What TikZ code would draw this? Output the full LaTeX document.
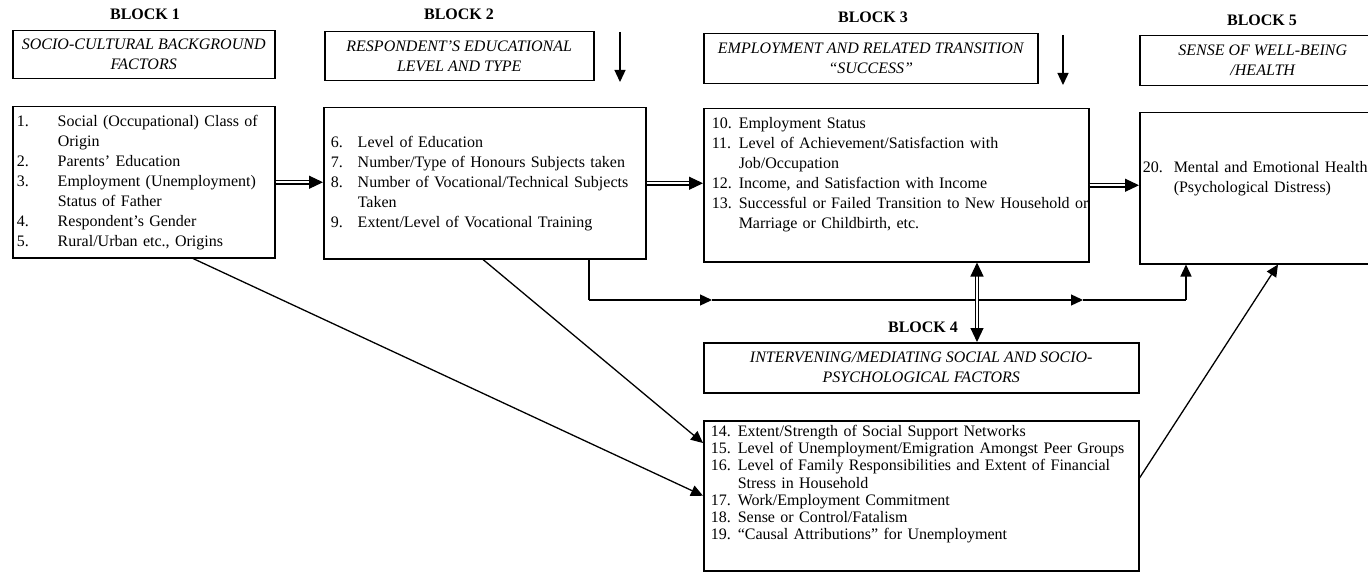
\documentclass[tikz,border=0pt]{standalone}
\usepackage{fontspec}
\setmainfont{Liberation Serif}
\usetikzlibrary{positioning}
\usetikzlibrary{arrows.meta}
\usetikzlibrary{calc}
\setlength{\parindent}{0pt}
\newcommand{\listfont}{\fontsize{16}{20}\selectfont}
\newcommand{\smalllistfont}{\fontsize{16}{17.2}\selectfont}
\tikzstyle{blocklabel}=[font=\fontsize{16}{20}\selectfont\bfseries, inner sep=0pt]
\tikzstyle{titlebox}=[draw, line width=1.5pt, anchor=north west, inner sep=0pt, align=center, font=\fontsize{16}{20}\selectfont\itshape]
\tikzstyle{listbox}=[draw, line width=1.5pt, anchor=north west, inner ysep=0pt, align=left, font=\listfont]
\tikzstyle{edge} = [draw, line width=1.3pt, -{Triangle[length=12pt,width=11pt]}]
\tikzstyle{plainedge} = [draw, line width=1.3pt]
\tikzstyle{doubleedge} = [draw, line width=1.1pt, double, double distance=2.4pt, -{Triangle[length=14pt,width=13pt]}]

\begin{document}
\begin{tikzpicture}[x=1pt,y=-1pt]
  \useasboundingbox (0,0) rectangle (1368,572);
  \clip (0,0) rectangle (1368,572);

  % block headings
  \foreach \pos/\name/\label in {{(145,14)/lab1/1}, {(459,14)/lab2/2}, {(873,17)/lab3/3}, {(923,327)/lab4/4}, {(1262,20)/lab5/5}}
    \node[blocklabel] (\name) at \pos {BLOCK \label};

  % title boxes under the headings
  \foreach \pos/\name/\w/\h/\label in {{(12,30)/title1/262/48/{SOCIO-CULTURAL BACKGROUND\\FACTORS}},
      {(324,31)/title2/269/49/{RESPONDENT'S EDUCATIONAL\\LEVEL AND TYPE}},
      {(703,33)/title3/334/50/{EMPLOYMENT AND RELATED TRANSITION\\``SUCCESS''}},
      {(703,342)/title4/435/50/{INTERVENING/MEDIATING SOCIAL AND SOCIO-\\PSYCHOLOGICAL FACTORS}},
      {(1139,35)/title5/246/50/{SENSE OF WELL-BEING\\/HEALTH}}}
    \node[titlebox, minimum width=\w pt, minimum height=\h pt] (\name) at \pos {\label};

  % factor lists
  \node[listbox, minimum height=151pt, text width=254pt, inner xsep=4pt] (origin) at (12,106) {%
    \begin{tabular}{@{}p{41pt}@{}l@{}}
    1. & Social (Occupational) Class of\\
       & Origin\\
    2. & Parents' Education\\
    3. & Employment (Unemployment)\\
       & Status of Father\\
    4. & Respondent's Gender\\
    5. & Rural/Urban etc., Origins
    \end{tabular}};

  \node[listbox, minimum height=151pt, text width=308pt, inner xsep=7pt] (education) at (323,107) {%
    \begin{tabular}{@{}p{27pt}@{}l@{}}
    6. & Level of Education\\
    7. & Number/Type of Honours Subjects taken\\
    8. & Number of Vocational/Technical Subjects\\
       & Taken\\
    9. & Extent/Level of Vocational Training
    \end{tabular}};

  \node[listbox, minimum height=153pt, text width=369pt, inner xsep=8pt] (employment) at (703,108) {%
    \begin{tabular}{@{}p{27pt}@{}l@{}}
    10. & Employment Status\\
    11. & Level of Achievement/Satisfaction with\\
        & Job/Occupation\\
    12. & Income, and Satisfaction with Income\\
    13. & Successful or Failed Transition to New Household or\\
        & Marriage or Childbirth, etc.\\[22pt]
    \end{tabular}};

  \node[listbox, minimum height=151pt, text width=240pt, inner xsep=3pt] (health) at (1139,112) {%
    \begin{tabular}{@{}p{31pt}@{}l@{}}
    20. & Mental and Emotional Health\\
        & (Psychological Distress)\\[20pt]
    \end{tabular}};

  \node[listbox, minimum height=150pt, text width=421pt, inner xsep=7pt, font=\smalllistfont] (mediating) at (703,420) {%
    \begin{tabular}{@{}p{27pt}@{}l@{}}
    14. & Extent/Strength of Social Support Networks\\
    15. & Level of Unemployment/Emigration Amongst Peer Groups\\
    16. & Level of Family Responsibilities and Extent of Financial\\
        & Stress in Household\\
    17. & Work/Employment Commitment\\
    18. & Sense or Control/Fatalism\\
    19. & ``Causal Attributions'' for Unemployment\\[22pt]
    \end{tabular}};

  % arrows coming in from above
  \coordinate (top2) at (620,32);
  \coordinate (end2) at (620,82);
  \coordinate (top3) at (1063,35);
  \coordinate (end3) at (1063,85);
  \path[edge] (top2) -- (end2);
  \path[edge] (top3) -- (end3);

  % main chain
  \path[doubleedge] (origin.east) -- (origin.east -| education.west);
  \path[doubleedge] (education.east) -- (education.east -| employment.west);
  \path[doubleedge] (employment.east) -- (employment.east -| health.west);

  % line under the boxes
  \coordinate (drop) at (589,300);
  \coordinate (mid1) at (712,300);
  \coordinate (link) at (977,300);
  \coordinate (mid2) at (1083,300);
  \coordinate (rise) at (1186,300);
  \path[plainedge] (education.south -| drop) -- (drop);
  \path[edge] (drop) -- (mid1);
  \path[edge] (mid1) -- (mid2);
  \path[plainedge] (mid2) -- (rise);
  \path[edge] (rise) -- (health.south -| rise);
  \path[doubleedge, {Triangle[length=14pt,width=13pt]}-{Triangle[length=14pt,width=13pt]}] (employment.south -| link) -- (title4.north -| link);

  % into and out of block 4
  \path[edge] ([xshift=181pt]origin.south west) -- (mediating.west);
  \path[edge] ([xshift=160pt]education.south west) -- ([yshift=-23pt]mediating.north west);
  \path[edge] ([yshift=-58pt]mediating.north east) -- ([xshift=139pt]health.south west);

\end{tikzpicture}
\end{document}
